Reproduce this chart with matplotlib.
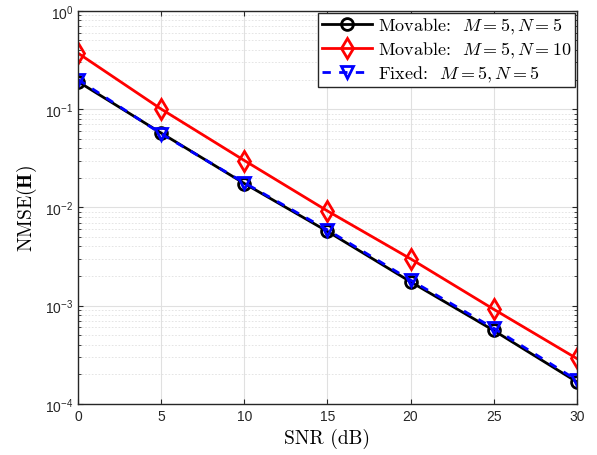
import numpy as np
import matplotlib
matplotlib.use('Agg')
import matplotlib.pyplot as plt

plt.rcParams['mathtext.fontset'] = 'cm'

# data
snr = [0, 5, 10, 15, 20, 25, 30]
mov_5_5 = [0.19, 0.057, 0.0175, 0.0057, 0.00175, 0.00056, 0.000168]
mov_5_10 = [0.37, 0.10, 0.030, 0.0092, 0.0030, 0.00092, 0.00029]
fix_5_5 = [0.20, 0.056, 0.0178, 0.0059, 0.00182, 0.00059, 0.000175]

labels = [r'Movable:  $M=5, N=5$', r'Movable:  $M=5, N=10$', r'Fixed:  $M=5, N=5$']

fig = plt.figure(figsize=(5.97, 4.56), dpi=100)
ax = fig.add_axes([0.131, 0.112, 0.835, 0.862])

ax.semilogy(snr, mov_5_5, 'k-', marker='o', ms=8.5, mfc='none', mew=2, lw=2, label=labels[0])
ax.semilogy(snr, mov_5_10, 'r-', marker='d', ms=10, mfc='none', mew=2, lw=2, label=labels[1])
ax.semilogy(snr, fix_5_5, '--', color='#0000ff', marker='v', ms=8.5, mfc='none', mew=2, lw=2,
            dashes=(3, 3), label=labels[2])

ax.set_xlim(0, 30)
ax.set_ylim(1e-4, 1)
ax.set_xticks(snr)
ax.set_yticks([1e-4, 1e-3, 1e-2, 1e-1, 1])
ax.set_yticklabels([r'$\mathregular{10^{%d}}$' % k for k in range(-4, 1)])
for t in ax.get_xticklabels() + ax.get_yticklabels():
    t.set_fontfamily('Liberation Sans')
    t.set_fontsize(10)
    t.set_color('#262626')

ax.grid(True, which='major', color='#e0e0e0', lw=0.8)
ax.grid(True, which='minor', axis='y', color='#e0e0e0', lw=0.6, ls=(0, (2, 2)))
ax.tick_params(which='both', direction='in', top=True, right=True, color='#262626')
for s in ax.spines.values():
    s.set_color('#262626')
    s.set_linewidth(1)

ax.set_xlabel('SNR (dB)', family='cmr10', fontsize=14)
ax.set_ylabel(r'NMSE($\mathbf{H}$)', family='cmr10', fontsize=14)

leg = ax.legend(loc='upper right', fancybox=False, framealpha=1,
                edgecolor='#262626', borderpad=0.2, labelspacing=0.2, handlelength=2.8,
                handletextpad=0.3, borderaxespad=0.1, prop={'family': 'cmr10', 'size': 13})
leg.get_frame().set_linewidth(1)

fig.savefig('out.png', dpi=100)
